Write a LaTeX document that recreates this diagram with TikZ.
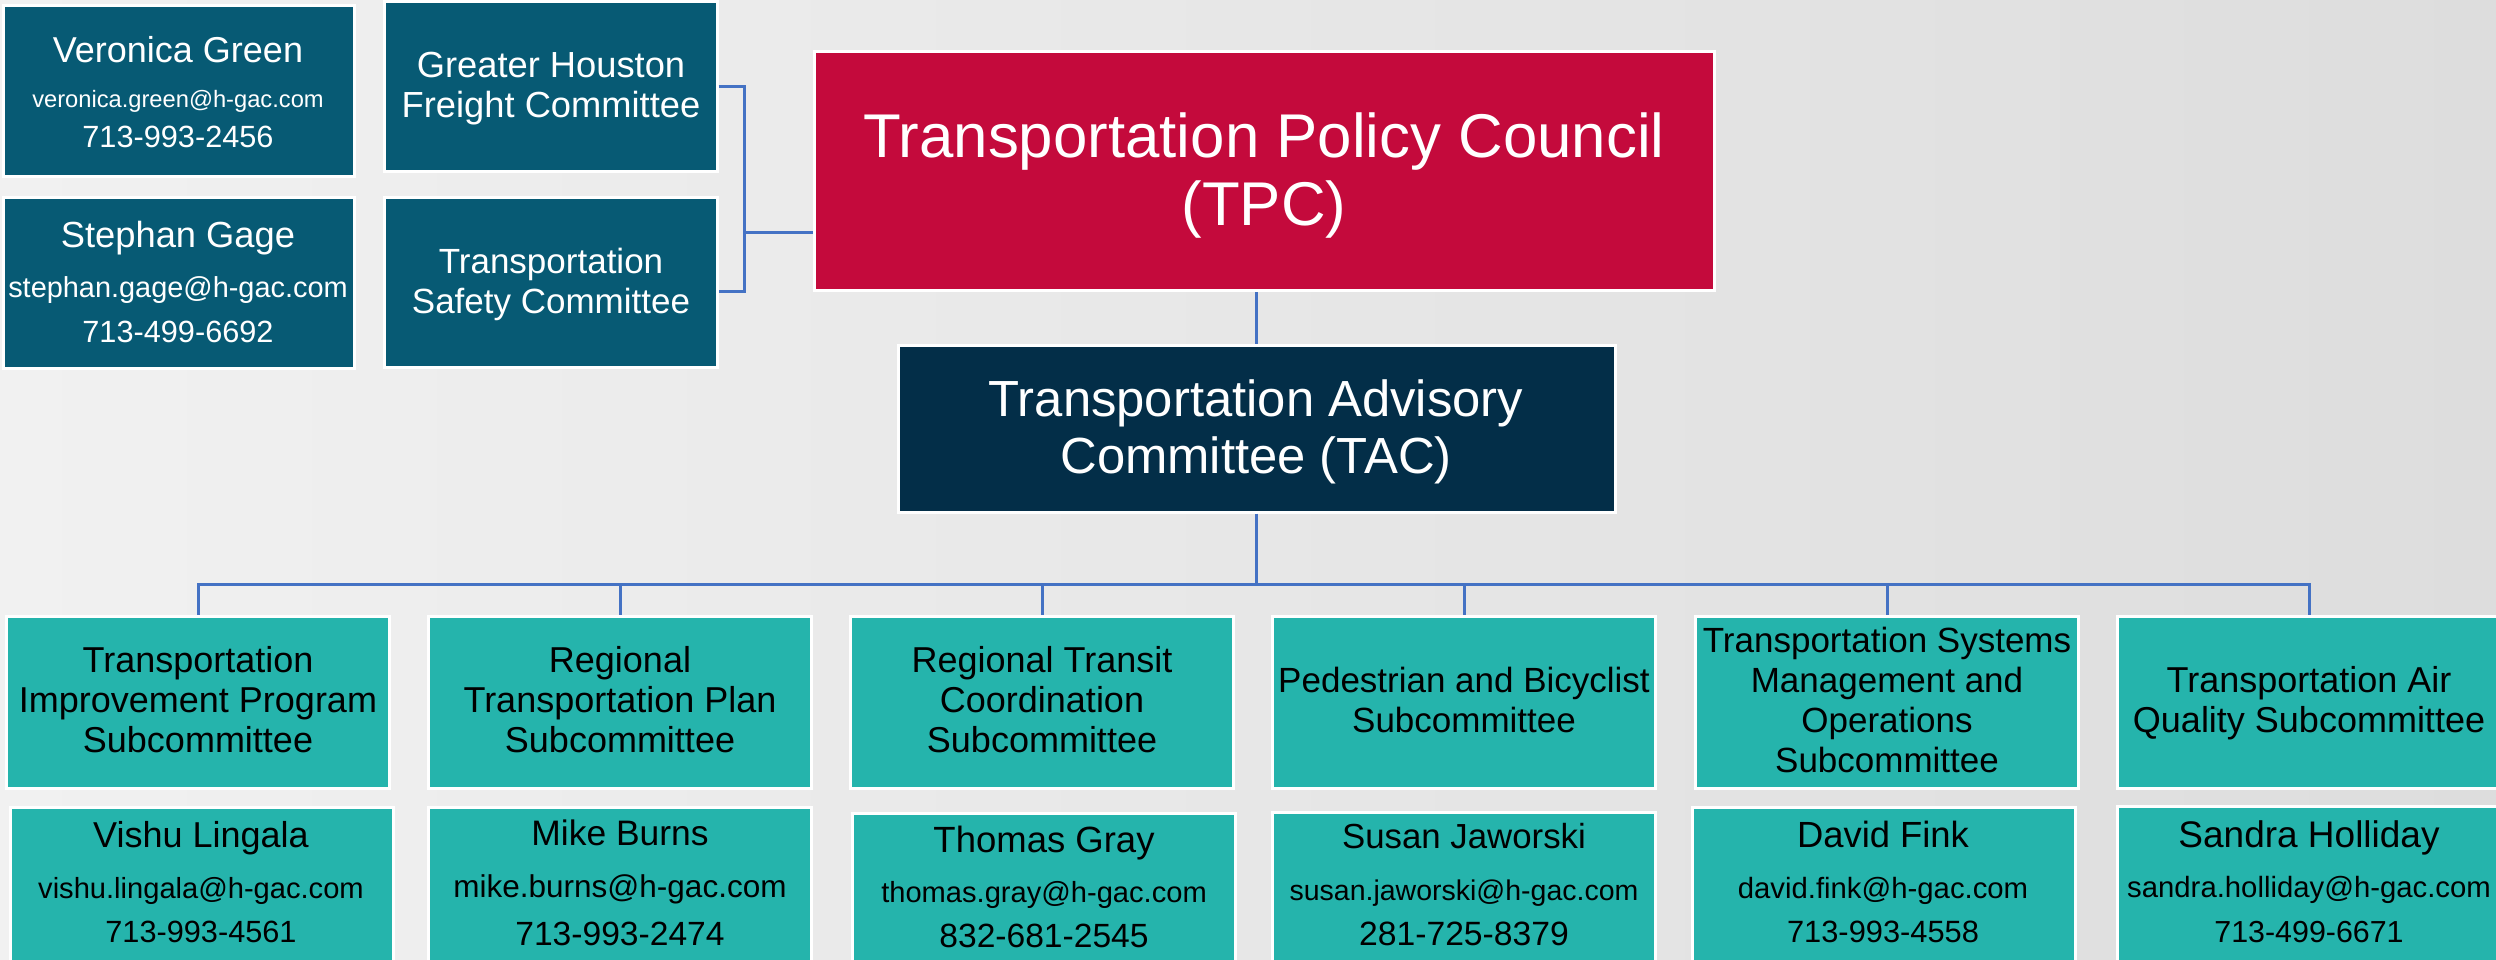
\documentclass[tikz,border=0pt]{standalone}
\usepackage{fontspec}
\setmainfont{Liberation Sans}
\definecolor{bgl}{HTML}{F1F1F1}
\definecolor{bgr}{HTML}{DDDDDD}
\definecolor{petrol}{HTML}{075A74}
\definecolor{crimson}{HTML}{C40A3C}
\definecolor{navy}{HTML}{032E48}
\definecolor{tealc}{HTML}{25B4AC}
\definecolor{linkc}{HTML}{4472C4}
\newcommand\fz[1]{\fontsize{#1}{#1}\selectfont}
\begin{document}
\begin{tikzpicture}[x=1pt,y=-1pt,
  boxc/.style={rectangle,draw=white,line width=3pt,inner sep=0pt},
  petbox/.style={boxc,fill=petrol,minimum width=351pt,minimum height=171pt},
  combox/.style={boxc,fill=petrol,minimum width=333pt,minimum height=170pt},
  tpcbox/.style={boxc,fill=crimson,minimum width=900pt,minimum height=239pt},
  tacbox/.style={boxc,fill=navy,minimum width=717pt,minimum height=167pt},
  subbox/.style={boxc,fill=tealc,minimum width=383pt,minimum height=172pt},
  perbox/.style={boxc,fill=tealc,minimum width=383pt,minimum height=193pt},
  wt/.style={anchor=base,inner sep=0pt,text=white},
  bt/.style={anchor=base,inner sep=0pt,text=black},
  link/.style={draw=linkc,line width=3pt}
]
\useasboundingbox (0,0) rectangle (2496,959);
\clip (0,0) rectangle (2496,959);
\fill[left color=bgl,right color=bgr] (0,0) rectangle (2496,959);

% ---- boxes ----
\node[petbox] (vg) at (178.5,90.5) {};
\node[petbox] (sg) at (178.5,282.5) {};
\node[combox] (fr) at (550.5,86.5) {};
\node[combox] (sf) at (550.5,282.5) {};
\node[tpcbox] (tpc) at (1264,170.5) {};
\node[tacbox] (tac) at (1256.5,428.5) {};
\node[subbox] (s1) at (198,702) {};
\node[subbox] (s2) at (620,702) {};
\node[subbox] (s3) at (1042,702) {};
\node[subbox] (s4) at (1464,702) {};
\node[subbox] (s5) at (1887,702) {};
\node[subbox] (s6) at (2309,702) {};
\node[perbox] (p1) at (202,903.5) {};
\node[perbox] (p2) at (620,903.5) {};
\node[perbox] (p3) at (1044,909.5) {};
\node[perbox] (p4) at (1464,908.5) {};
\node[perbox] (p5) at (1884,903.5) {};
\node[perbox] (p6) at (2309,902.5) {};

% ---- connectors ----
\coordinate (brk) at (744,232);
\coordinate (sfa) at ([yshift=-8.5pt]sf.east);
\coordinate (busy) at (0,584);
\coordinate (bus) at (tac.south |- busy);
\draw[link] (fr.east) -- (fr.east -| brk) -- (brk |- sfa) -- (sfa);
\draw[link] (brk) -- (brk -| tpc.west);
\draw[link] (tac.north) -- (tac.north |- tpc.south);
\draw[link] (tac.south) -- (bus);
\foreach \s in {s1,s2,s3,s4,s5,s6} \draw[link] (bus) -| (\s.north);

% ---- texts: top left ----
\node[wt,font=\fz{36}] (vg1) at (178,62) {Veronica Green};
\node[wt,font=\fz{23.7}] (vg2) at (178,107) {veronica.green@h-gac.com};
\node[wt,font=\fz{30.7}] (vg3) at (178,147) {713-993-2456};
\node[wt,font=\fz{36.3}] (sg1) at (178,247) {Stephan Gage};
\node[wt,font=\fz{28.9}] (sg2) at (178,297) {stephan.gage@h-gac.com};
\node[wt,font=\fz{30.7}] (sg3) at (178,342) {713-499-6692};
\node[wt,font=\fz{36.3}] (fr1) at (551,77) {Greater Houston};
\node[wt,font=\fz{36.3}] (fr2) at (551,117) {Freight Committee};
\node[wt,font=\fz{35}] (sf1) at (551,273) {Transportation};
\node[wt,font=\fz{35}] (sf2) at (551,313) {Safety Committee};

% ---- TPC / TAC ----
\node[wt,font=\fz{61.8}] (tpc1) at (1264,157) {Transportation Policy Council};
\node[wt,font=\fz{61.8}] (tpc2) at (1264,225) {(TPC)};
\node[wt,font=\fz{50.8}] (tac1) at (1256,416) {Transportation Advisory};
\node[wt,font=\fz{50.8}] (tac2) at (1256,473) {Committee (TAC)};

% ---- subcommittees ----
\node[bt,font=\fz{36}] (s1a) at (198,672) {Transportation};
\node[bt,font=\fz{36}] (s1b) at (198,712) {Improvement Program};
\node[bt,font=\fz{36}] (s1c) at (198,752) {Subcommittee};
\node[bt,font=\fz{36}] (s2a) at (620,672) {Regional};
\node[bt,font=\fz{36}] (s2b) at (620,712) {Transportation Plan};
\node[bt,font=\fz{36}] (s2c) at (620,752) {Subcommittee};
\node[bt,font=\fz{36}] (s3a) at (1042,672) {Regional Transit};
\node[bt,font=\fz{36}] (s3b) at (1042,712) {Coordination};
\node[bt,font=\fz{36}] (s3c) at (1042,752) {Subcommittee};
\node[bt,font=\fz{35}] (s4a) at (1464,692) {Pedestrian and Bicyclist};
\node[bt,font=\fz{35}] (s4b) at (1464,732) {Subcommittee};
\node[bt,font=\fz{35}] (s5a) at (1887,652) {Transportation Systems};
\node[bt,font=\fz{35}] (s5b) at (1887,692) {Management and};
\node[bt,font=\fz{35}] (s5c) at (1887,732) {Operations};
\node[bt,font=\fz{35}] (s5d) at (1887,772) {Subcommittee};
\node[bt,font=\fz{36}] (s6a) at (2309,692) {Transportation Air};
\node[bt,font=\fz{36}] (s6b) at (2309,732) {Quality Subcommittee};

% ---- people ----
\node[bt,font=\fz{36}] (p1a) at (201,847) {Vishu Lingala};
\node[bt,font=\fz{29.1}] (p1b) at (201,898) {vishu.lingala@h-gac.com};
\node[bt,font=\fz{30.7}] (p1c) at (201,942) {713-993-4561};
\node[bt,font=\fz{35.4}] (p2a) at (620,845) {Mike Burns};
\node[bt,font=\fz{31.5}] (p2b) at (620,897) {mike.burns@h-gac.com};
\node[bt,font=\fz{33.6}] (p2c) at (620,945) {713-993-2474};
\node[bt,font=\fz{36.5}] (p3a) at (1044,852) {Thomas Gray};
\node[bt,font=\fz{29.1}] (p3b) at (1044,902) {thomas.gray@h-gac.com};
\node[bt,font=\fz{33.6}] (p3c) at (1044,947) {832-681-2545};
\node[bt,font=\fz{34.8}] (p4a) at (1464,848) {Susan Jaworski};
\node[bt,font=\fz{28.5}] (p4b) at (1464,900) {susan.jaworski@h-gac.com};
\node[bt,font=\fz{33.7}] (p4c) at (1464,945) {281-725-8379};
\node[bt,font=\fz{36.4}] (p5a) at (1883,847) {David Fink};
\node[bt,font=\fz{29.3}] (p5b) at (1883,898) {david.fink@h-gac.com};
\node[bt,font=\fz{30.8}] (p5c) at (1883,942) {713-993-4558};
\node[bt,font=\fz{37}] (p6a) at (2309,847) {Sandra Holliday};
\node[bt,font=\fz{29.3}] (p6b) at (2309,897) {sandra.holliday@h-gac.com};
\node[bt,font=\fz{30.4}] (p6c) at (2309,942) {713-499-6671};
\end{tikzpicture}
\end{document}
